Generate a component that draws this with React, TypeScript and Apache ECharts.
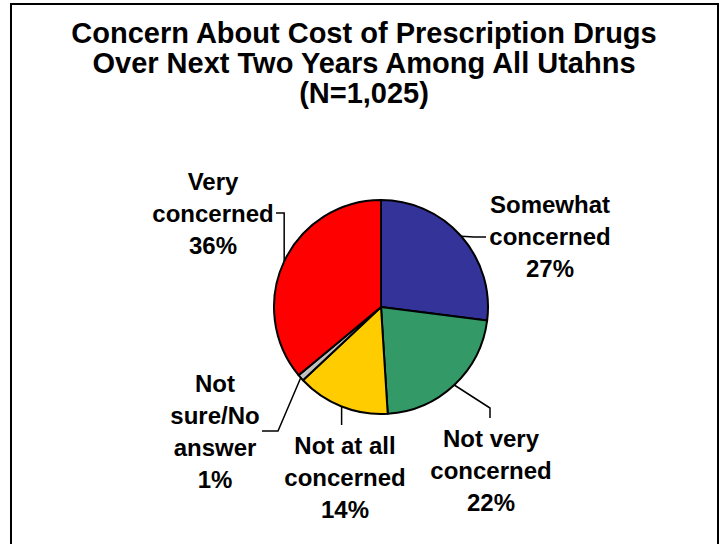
import React, { useEffect, useRef } from "react";
import * as echarts from "echarts";

const categories = [
  "Somewhat\nconcerned",
  "Not very\nconcerned",
  "Not at all\nconcerned",
  "Not\nsure/No\nanswer",
  "Very\nconcerned",
];
const values = [27, 22, 14, 1, 36];
const colors = ["#333399", "#339966", "#FFCC00", "#C0C0C0", "#FF0000"];
const titleLines = [
  "Concern About Cost of Prescription Drugs",
  "Over Next Two Years Among All Utahns",
  "(N=1,025)",
];

// label layout (pixel positions of the label block centres)
const labelCenters: [number, number][] = [
  [550, 236],
  [491, 470],
  [345, 477],
  [215, 431],
  [213, 213],
];
// leader line bend and end points (null x = keep the anchor's x)
const leaderBends: [number | null, number][] = [
  [474, 237],
  [490, 408],
  [null, 416],
  [278, 431],
  [null, 213],
];
const leaderEnds: [number | null, number][] = [
  [486, 237],
  [490, 418],
  [null, 425],
  [262, 431],
  [276, 213],
];

const FONT = "'Liberation Sans', Arial, sans-serif";

export default function App() {
  const ref = useRef<HTMLDivElement>(null);
  useEffect(() => {
    document.body.style.margin = "0";
    if (!ref.current) return;
    const chart = echarts.init(ref.current, null, { renderer: "svg" });
    const center = [381, 307];
    const radius = 107;
    chart.setOption({
      animation: false,
      backgroundColor: "#ffffff",
      title: {
        text: titleLines.join("\n"),
        left: 364,
        top: 18,
        padding: 0,
        textAlign: "center",
        textStyle: {
          fontFamily: FONT,
          fontWeight: "bold",
          fontSize: 29,
          lineHeight: 30,
          color: "#000",
        },
      },
      graphic: [
        {
          type: "rect",
          shape: { x: 11, y: 4, width: 707, height: 600 },
          style: { fill: "none", stroke: "#000", lineWidth: 2 },
          silent: true,
          z: 10,
        },
      ],
      series: [
        {
          type: "pie",
          center,
          radius,
          startAngle: 90,
          clockwise: true,
          data: categories.map((c, i) => ({
            name: c,
            value: values[i],
            itemStyle: { color: colors[i] },
          })),
          itemStyle: { borderColor: "#000", borderWidth: 2 },
          emphasis: { disabled: true },
          label: {
            show: true,
            position: "outside",
            formatter: (p: any) => `${p.name}\n${p.value}%`,
            fontFamily: FONT,
            fontWeight: "bold",
            fontSize: 24,
            lineHeight: 32,
            color: "#000",
            align: "center",
          },
          labelLine: {
            show: true,
            length: 10,
            length2: 10,
            lineStyle: { color: "#000", width: 1.5 },
          },
          labelLayout: (params: any) => {
            const i = params.dataIndex;
            let start = params.labelLinePoints && params.labelLinePoints[0];
            if (!start) {
              const total = values.reduce((a, b) => a + b, 0);
              let cum = 0;
              for (let k = 0; k < i; k++) cum += values[k];
              const mid = ((cum + values[i] / 2) / total) * 2 * Math.PI;
              start = [center[0] + radius * Math.sin(mid), center[1] - radius * Math.cos(mid)];
            }
            const b = leaderBends[i];
            const e = leaderEnds[i];
            const bend = [b[0] == null ? start[0] : b[0], b[1]];
            const end = [e[0] == null ? start[0] : e[0], e[1]];
            return {
              x: labelCenters[i][0],
              y: labelCenters[i][1],
              align: "center",
              verticalAlign: "middle",
              labelLinePoints: [start, bend, end],
            };
          },
        },
      ],
    });
    return () => chart.dispose();
  }, []);
  return <div ref={ref} style={{ width: 720, height: 544 }} />;
}
